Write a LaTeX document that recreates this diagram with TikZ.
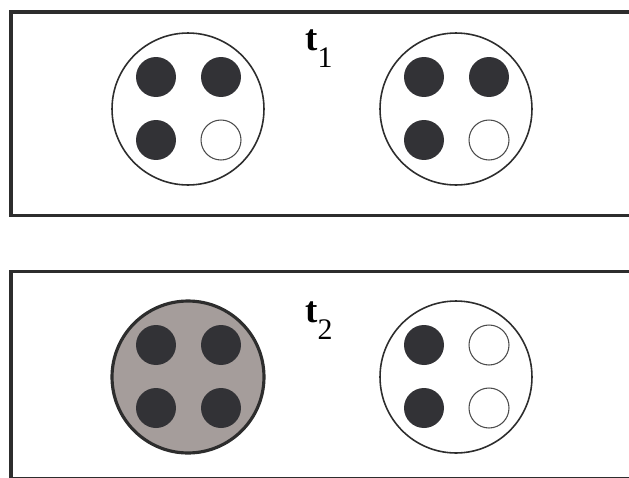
\documentclass[tikz,border=0pt]{standalone}
\usepackage{fontspec}
\setmainfont{Liberation Serif}
\usepackage{tikz}
\usetikzlibrary{positioning}
\definecolor{dot-dark}{RGB}{50, 50, 54}
\definecolor{cell-grey}{RGB}{165, 157, 155}
\definecolor{line-dark}{RGB}{45, 45, 45}
\newcommand{\timelabel}[1]{\textbf{t}\raisebox{-9.7pt}{\fontsize{17}{18}\selectfont #1}}

\begin{document}
\begin{tikzpicture}[
    x=0.02cm, y=-0.02cm,
    panel/.style={draw=line-dark, line width=2pt},
    cell/.style={circle, draw=line-dark, line width=0.9pt, fill=white,
                 minimum size=3.04cm, inner sep=0pt},
    fused/.style={cell, fill=cell-grey, line width=1.8pt},
    full/.style={circle, fill=dot-dark, minimum size=0.8cm, inner sep=0pt},
    empty/.style={circle, draw=black!70, line width=0.6pt, fill=white,
                  minimum size=0.8cm, inner sep=0pt},
    tlbl/.style={font=\fontsize{21}{24}\selectfont, inner sep=0pt, anchor=base west}
  ]
    \useasboundingbox (0,0) rectangle (629,477);
    \clip (0,0) rectangle (629,477);

    % panels
    \draw[panel] (11,12) rectangle (660,215.5);
    \draw[panel] (11,271.5) rectangle (660,478.5);

    % time t1
    \node[cell] (c11) at (188,109) {};
    \node[cell] (c12) at (456,109) {};
    \node[full]  (c11a) at (156,77)  {};
    \node[full]  (c11b) at (221,77)  {};
    \node[full]  (c11c) at (156,140) {};
    \node[empty] (c11d) at (221,140) {};
    \node[full]  (c12a) at (424,77)  {};
    \node[full]  (c12b) at (489,77)  {};
    \node[full]  (c12c) at (424,140) {};
    \node[empty] (c12d) at (489,140) {};
    \node[tlbl] (t1) at (305,50) {\timelabel{1}};

    % time t2
    \node[fused] (c21) at (188,377) {};
    \node[cell]  (c22) at (456,377) {};
    \node[full]  (c21a) at (156,345) {};
    \node[full]  (c21b) at (221,345) {};
    \node[full]  (c21c) at (156,408) {};
    \node[full]  (c21d) at (221,408) {};
    \node[full]  (c22a) at (424,345) {};
    \node[empty] (c22b) at (489,345) {};
    \node[full]  (c22c) at (424,408) {};
    \node[empty] (c22d) at (489,408) {};
    \node[tlbl] (t2) at (305,322) {\timelabel{2}};
  \end{tikzpicture}
\end{document}
